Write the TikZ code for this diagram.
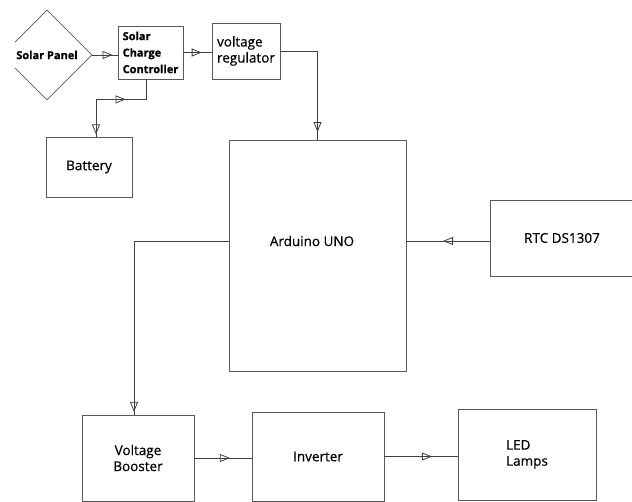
\documentclass[tikz,border=0pt]{standalone}
\usepackage{fontspec}
\setmainfont{Open Sans}
\newfontfamily\blockfont{Open Sans}[FakeBold=0.5]
\newfontfamily\heavyfont{Open Sans Bold}[FakeBold=0.8]
\usetikzlibrary{arrows.meta}
\usetikzlibrary{decorations.markings}
\usetikzlibrary{shapes.geometric}

\tikzset{
  block/.style={draw=black!65, line width=0.8pt, rectangle, inner sep=2pt, font=\blockfont\fontsize{13.5}{16}\selectfont},
  boldblock/.style={block, font=\heavyfont\fontsize{11}{16.5}\selectfont, align=left},
  wire/.style={draw=black!75, line width=0.8pt},
  openhead/.tip={Triangle[open, length=10pt, width=8pt]},
  midarrow/.style={postaction={decorate}, decoration={markings, mark=at position #1 with {\arrow{openhead}}}},
}

\begin{document}
      \begin{tikzpicture}[x=1pt, y=-1pt]
          \useasboundingbox (0,0) rectangle (632,502);
          \clip (0,0) rectangle (632,502);
          %panel, cut at the left edge
          \begin{scope}
            \clip (15,0) rectangle (110,110);
            \node[diamond, draw=black!65, line width=0.8pt, minimum width=90pt, minimum height=90pt, inner sep=0pt,
                  font=\heavyfont\fontsize{11}{13}\selectfont] (panel) at (47,55) {Solar Panel};
          \end{scope}
          \node[boldblock, minimum width=65pt, minimum height=53pt] (scc) at (150.5,52.5) {Solar\\Charge\\Controller};
          \node[block, align=left, minimum width=68pt, minimum height=56pt] (vreg) at (246,51) {voltage\\regulator};
          \node[block, minimum width=86pt, minimum height=60pt] (battery) at (89,167) {Battery};
          \node[block, minimum width=177pt, minimum height=231pt] (arduino) at (317.5,255.5) {};
          \node[font=\blockfont\fontsize{13.5}{16}\selectfont] (arduinotext) at (312,241) {Arduino UNO};
          \node[block, minimum width=144pt, minimum height=76pt] (rtc) at (562,238) {RTC DS1307};
          \node[block, align=center, minimum width=112pt, minimum height=86pt] (booster) at (138,458) {Voltage\\Booster};
          \node[block, minimum width=132pt, minimum height=89pt] (inverter) at (318,456.5) {Inverter};
          \node[block, align=left, minimum width=138pt, minimum height=91pt] (led) at (527,454.5) {LED\\Lamps};

          %connections
          \draw[wire, midarrow=0.8] (panel.east) -- (panel.east -| scc.west);
          \draw[wire, midarrow=0.65] (scc.east) -- (scc.east -| vreg.west);
          \draw[wire, midarrow=0.94] (vreg.east) -| (arduino.north);
          \draw[wire, postaction={decorate}, decoration={markings,
                mark=at position 0.38 with {\arrowreversed{openhead}},
                mark=at position 0.98 with {\arrow{openhead}}}]
                ([xshift=-4pt]scc.south) -- ++(0,20) -| ([xshift=7pt]battery.north);
          \draw[wire, midarrow=0.56] (rtc.west |- arduinotext) -- (arduino.east |- arduinotext);
          \draw[wire, midarrow=0.99] (arduino.west |- arduinotext) -| ([xshift=-4pt]booster.north);
          \draw[wire, midarrow=0.62] (booster.east) -- (booster.east -| inverter.west);
          \draw[wire, midarrow=0.65] (inverter.east) -- (inverter.east -| led.west);
      \end{tikzpicture}
\end{document}
